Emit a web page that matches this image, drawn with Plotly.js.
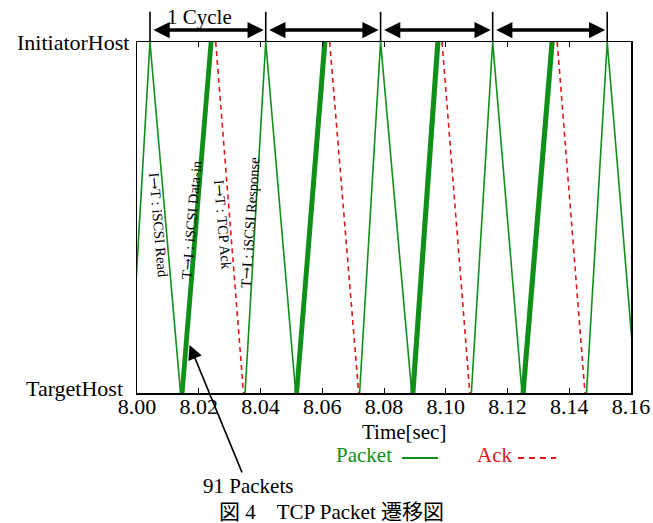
<!DOCTYPE html>
<html>
<head>
<meta charset="utf-8">
<script src="https://cdn.plot.ly/plotly-3.0.1.min.js"></script>
<style>html,body{margin:0;padding:0;background:#fff;}#chart{width:653px;height:523px;}</style>
</head>
<body>
<div id="chart"></div>
<script>
// ---- data (seconds) ----
const hostLabels = ["TargetHost", "InitiatorHost"];
const hostValues = [0, 1];
const xTicks = [8.00, 8.02, 8.04, 8.06, 8.08, 8.10, 8.12, 8.14, 8.16];
// I->T iSCSI Read: leaves initiator at readStart, reaches target at readEnd
const readStart = [8.0042, 8.0417, 8.0789, 8.1152, 8.1523];
const readEnd   = [8.0141, 8.0514, 8.0890, 8.1247, 8.1617];
// T->I iSCSI Response: leaves target at respStart, reaches initiator at respEnd
const respStart = [7.9976, 8.0350, 8.0721, 8.1083, 8.1456];
const respEnd   = [8.0042, 8.0417, 8.0789, 8.1152, 8.1523];
// T->I iSCSI Data-in burst (first and last of 91 packets)
const dataFirstStart = [8.0143, 8.0514, 8.0890, 8.1247];
const dataFirstEnd   = [8.0237, 8.0605, 8.0971, 8.1341];
const dataLastStart  = [8.0149, 8.0520, 8.0897, 8.1254];
const dataLastEnd    = [8.0243, 8.0612, 8.0978, 8.1348];
// I->T TCP Ack
const ackStart = [8.0255, 8.0624, 8.0988, 8.1361];
const ackEnd   = [8.0345, 8.0718, 8.1078, 8.1451];
// cycle boundaries
const cycleMarks = [8.0042, 8.0417, 8.0789, 8.1152, 8.1523];
const ARW = '<span style="font-family:DejaVu Serif">→</span>';
const phaseLabels = ["I" + ARW + "T : iSCSI Read", "T" + ARW + "I : iSCSI Data-in",
                     "I" + ARW + "T : TCP Ack", "T" + ARW + "I : iSCSI Response"];

const GREEN = "#10901a", RED = "#dd1818";
const FONT = "Liberation Serif, Noto Sans CJK JP, serif";

// build polylines
const zx = [], zy = [];
for (let i = 0; i < readStart.length; i++) {
  zx.push(respStart[i], respEnd[i], readEnd[i], null);
  zy.push(0, 1, 0, null);
}
const dx = [], dy = [];
for (let i = 0; i < dataFirstStart.length; i++) {
  dx.push(dataFirstStart[i], dataFirstEnd[i], null, dataLastStart[i], dataLastEnd[i], null);
  dy.push(0, 1, null, 0, 1, null);
}
const ax_ = [], ay_ = [];
for (let i = 0; i < ackStart.length; i++) {
  ax_.push(ackStart[i], ackEnd[i], null);
  ay_.push(1, 0, null);
}

const traces = [
  {x: zx, y: zy, mode: "lines", line: {color: GREEN, width: 1.6}, showlegend: false, hoverinfo: "skip"},
  {x: dx, y: dy, mode: "lines", line: {color: GREEN, width: 3}, showlegend: false, hoverinfo: "skip"},
  {x: ax_, y: ay_, mode: "lines", line: {color: RED, width: 1.6, dash: "5px,4px"}, showlegend: false, hoverinfo: "skip"}
];

const annotations = [];
const shapes = [];
function txt(px, py, text, size, color, extra) {
  return Object.assign({xref: "paper", yref: "paper", x: (px - 137) / 494, y: (393 - py) / 351,
    xanchor: "center", yanchor: "middle", text: text, showarrow: false,
    font: {family: FONT, size: size, color: color}}, extra || {});
}
// host labels (y axis)
annotations.push({xref: "paper", yref: "y", x: (131 - 137) / 494, y: hostValues[1], xanchor: "right",
  yanchor: "middle", text: hostLabels[1], showarrow: false, font: {family: FONT, size: 22, color: "#000"}});
annotations.push({xref: "paper", yref: "y", x: (125 - 137) / 494, y: hostValues[0], yshift: 5, xanchor: "right",
  yanchor: "middle", text: hostLabels[0], showarrow: false, font: {family: FONT, size: 22, color: "#000"}});

// cycle arrows & bars
for (let i = 0; i < cycleMarks.length; i++) {
  shapes.push({type: "line", xref: "x", yref: "paper", x0: cycleMarks[i], x1: cycleMarks[i], y0: 1, y1: 1.086,
               line: {color: "#000", width: 1.6}});
  if (i < cycleMarks.length - 1) {
    annotations.push({xref: "x", yref: "paper", x: cycleMarks[i + 1], y: 1.034, axref: "x", ayref: "pixel",
      ax: cycleMarks[i], ay: 0, text: "", showarrow: true, arrowside: "end+start", arrowhead: 2,
      arrowsize: 0.9, arrowwidth: 3.6, arrowcolor: "#000", standoff: 2, startstandoff: 2});
  }
}
annotations.push(txt(199, 17, "1 Cycle", 21, "#000"));

// phase labels (rotated)
const labelPos = [[8.00700, 0.479, 85], [8.01765, 0.496, -85], [8.02772, 0.481, 85], [8.03662, 0.484, -86]];
for (let i = 0; i < phaseLabels.length; i++) {
  annotations.push({xref: "x", yref: "y", x: labelPos[i][0], y: labelPos[i][1], text: phaseLabels[i],
    textangle: labelPos[i][2], showarrow: false, font: {family: FONT, size: 14.5, color: "#000"}});
}

// 91 packets arrow
annotations.push({xref: "x", yref: "y", x: 8.01702, y: 0.137, text: "91 Packets", showarrow: true,
  axref: "pixel", ayref: "pixel", ax: 58, ay: 141, arrowhead: 2, arrowsize: 1.8, arrowwidth: 1.6,
  arrowcolor: "#000", standoff: 0, font: {family: FONT, size: 21, color: "#000"}});

// axis title
annotations.push(txt(404, 432, "Time[sec]", 21, "#000"));

// legend (text then line)
annotations.push(txt(364, 455, "Packet", 21, GREEN));
annotations.push(txt(494, 455, "Ack", 21, RED));
shapes.push({type: "line", xref: "paper", yref: "paper", x0: (402 - 137) / 494, x1: (438 - 137) / 494,
  y0: (393 - 458) / 351, y1: (393 - 458) / 351, line: {color: GREEN, width: 1.8}});
shapes.push({type: "line", xref: "paper", yref: "paper", x0: (518 - 137) / 494, x1: (556 - 137) / 494,
  y0: (393 - 458) / 351, y1: (393 - 458) / 351, line: {color: RED, width: 1.8, dash: "6px,5px"}});

// figure caption
annotations.push(txt(331, 512, "図 4\u3000TCP Packet 遷移図", 21, "#000"));

const layout = {
  width: 653, height: 523,
  margin: {l: 137, r: 22, t: 42, b: 130, pad: 0},
  paper_bgcolor: "#fff", plot_bgcolor: "#fff",
  font: {family: FONT, color: "#000"},
  showlegend: false,
  xaxis: {range: [8.00, 8.16], tickvals: xTicks, ticktext: xTicks.map(v => v.toFixed(2)),
    ticks: "inside", ticklen: 5, tickwidth: 1, tickcolor: "#000", showgrid: false, zeroline: false,
    showline: true, linecolor: "#000", linewidth: 1.5, mirror: "ticks", ticklabelstandoff: -7,
    tickfont: {family: FONT, size: 22, color: "#000"}},
  yaxis: {range: [0, 1], tickvals: hostValues, showticklabels: false, ticks: "", showgrid: false, zeroline: false,
    showline: true, linecolor: "#000", linewidth: 1.5, mirror: true},
  annotations: annotations,
  shapes: shapes
};

Plotly.newPlot("chart", traces, layout, {displayModeBar: false, staticPlot: true});
</script>
</body>
</html>
